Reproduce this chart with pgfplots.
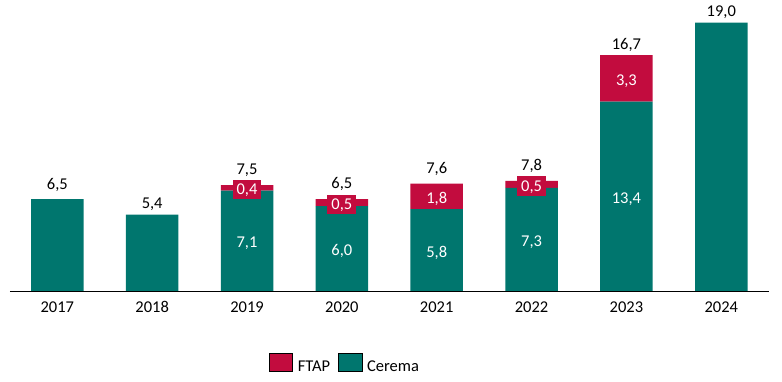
\documentclass[border=0pt]{standalone}
\usepackage{pgfplots}
\pgfplotsset{compat=1.18}
\usepackage{fontspec}
\setmainfont{Carlito}
\definecolor{ftap}{HTML}{C20C3E}
\definecolor{cerema}{HTML}{00766E}
\tikzset{
  inlab/.style={anchor=base, yshift=-7pt, text height=10.5pt, text depth=0pt,
    inner ysep=4.5pt, inner xsep=4pt, text=white, font=\fontsize{16.5}{19}\selectfont},
}
\pgfplotsset{
  common/.style={
    at={(9.9pt,91pt)}, anchor=south west, scale only axis,
    width=758.8pt, height=282.6pt,
    xmin=-0.5, xmax=7.5, ymin=0, ymax=20,
    clip=false,
    font=\fontsize{16.5}{19}\selectfont,
    /pgf/number format/assume math mode=true,
  },
}
\begin{document}
\begin{tikzpicture}[x=1pt,y=1pt]
\path[use as bounding box] (0,0) rectangle (782,382);
\begin{axis}[common,
  ybar stacked, bar width=52.5pt,
  axis x line*=bottom, axis y line=none,
  axis line style={-, black, line width=0.8pt},
  xtick={0,...,7},
  xticklabels={2017,2018,2019,2020,2021,2022,2023,2024},
  major tick length=0pt,
  xticklabel style={anchor=base, yshift=-22pt, text=black},
]
\addplot[draw=none, fill=cerema] coordinates {(0,6.5) (1,5.4) (2,7.1) (3,6.0) (4,5.8) (5,7.3) (6,13.4) (7,19.0)};
\addplot[draw=none, fill=ftap] coordinates {(0,0) (1,0) (2,0.4) (3,0.5) (4,1.8) (5,0.5) (6,3.3) (7,0)};
\end{axis}
\begin{axis}[common, hide axis,
  legend image code/.code={\fill[#1] (0pt,-4.5pt) rectangle (23.5pt,13.5pt);},
  legend style={at={(0.4416,-0.258)}, anchor=center, draw=none, fill=none,
    legend columns=-1, font=\fontsize{16.5}{19}\selectfont,
    /tikz/every odd column/.append style={column sep=3pt},
    /tikz/every even column/.append style={column sep=6pt}},
]
\addlegendimage{fill=ftap}
\addlegendentry{FTAP}
\addlegendimage{fill=cerema}
\addlegendentry{Cerema}
% totals
\addplot[draw=none, nodes near coords, point meta=explicit symbolic,
  visualization depends on={\thisrow{dy} \as \labdy},
  every node near coord/.style={anchor=base, yshift=\labdy pt, text=black, font=\fontsize{16.5}{19}\selectfont}]
  table[meta=label] {
x y label dy
0 6.5 6,5 10
1 5.4 5,4 5.7
2 7.5 7,5 11
3 6.5 6,5 10.7
4 7.6 7,6 10
5 7.8 7,8 10.3
6 16.7 16,7 5.7
7 19.0 19,0 6
};
% Cerema segment labels
\addplot[draw=none, nodes near coords, point meta=explicit symbolic,
  every node near coord/.style={inlab}]
  table[meta=label] {
x y label
2 3.55 7,1
3 3.0 6,0
4 2.9 5,8
5 3.65 7,3
6 6.7 13,4
};
% FTAP segment labels
\addplot[draw=none, nodes near coords, point meta=explicit symbolic,
  every node near coord/.style={inlab, fill=ftap}]
  table[meta=label] {
x y label
2 7.3 0,4
3 6.25 0,5
4 6.7 1,8
5 7.55 0,5
6 15.05 3,3
};
\end{axis}
\end{tikzpicture}
\end{document}
